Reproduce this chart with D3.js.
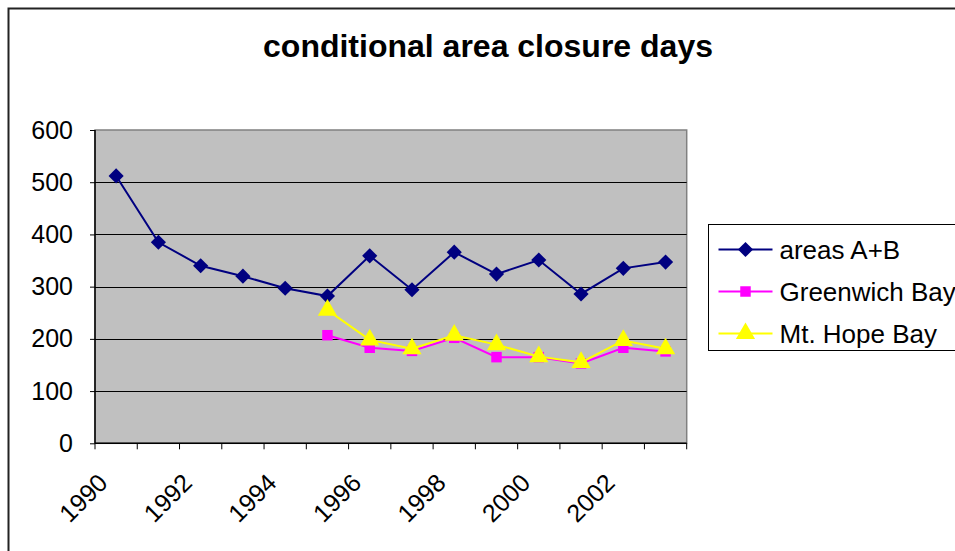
<!DOCTYPE html>
<html>
<head>
<meta charset="utf-8">
<script src="https://cdn.jsdelivr.net/npm/d3@7"></script>
<style>
  body { margin: 0; background: #fff; }
  svg { display: block; font-family: "Liberation Sans", Arial, sans-serif; }
</style>
</head>
<body>
<div id="chart"></div>
<script>
// Data
var years = [1990, 1991, 1992, 1993, 1994, 1995, 1996, 1997, 1998, 1999, 2000, 2001, 2002, 2003];
var areasAB = [512, 385, 340, 320, 297, 282, 359, 294, 366, 324, 351, 286, 335, 347];
var greenwichBay = [null, null, null, null, null, 207, 183, 177, 202, 165, 165, 153, 183, 176];
var mtHopeBay = [null, null, null, null, null, 255, 198, 181, 207, 189, 166, 155, 197, 181];
var yTicks = [0, 100, 200, 300, 400, 500, 600];
var xLabels = [1990, 1992, 1994, 1996, 1998, 2000, 2002];

var series = [
  { name: "areas A+B", values: areasAB, color: "#000080", symbol: d3.symbolSquare, size: 115, rotate: 45 },
  { name: "Greenwich Bay", values: greenwichBay, color: "#FF00FF", symbol: d3.symbolSquare, size: 110, rotate: 0 },
  { name: "Mt. Hope Bay", values: mtHopeBay, color: "#FFFF00", symbol: d3.symbolTriangle, size: 160, rotate: 0 },
];

var width = 955;
var height = 551;
var margins = { top: 130, left: 95 };
var chartWidth = 591.7;
var chartHeight = 313.3;

var svg = d3
  .select("#chart")
  .append("svg")
  .attr("width", width)
  .attr("height", height);

// Outer chart border (only top and left are in view)
svg
  .append("path")
  .attr("d", "M8.5," + height + "V8.5H" + width)
  .attr("fill", "none")
  .attr("stroke", "#222")
  .attr("stroke-width", 2);

// Title
svg
  .append("text")
  .attr("x", 488)
  .attr("y", 57)
  .attr("text-anchor", "middle")
  .style("font-size", "32px")
  .style("font-weight", "bold")
  .text("conditional area closure days");

// Scales
var xScale = d3.scaleBand().domain(years).range([0, chartWidth]);
var yScale = d3.scaleLinear().domain([0, 600]).range([chartHeight, 0]);

var chartElement = svg.append("g").attr("transform", "translate(" + margins.left + "," + margins.top + ")");

// Plot background
chartElement
  .append("rect")
  .attr("width", chartWidth)
  .attr("height", chartHeight)
  .attr("fill", "#C0C0C0")
  .attr("stroke", "#808080")
  .attr("stroke-width", 1.5);

// Gridlines
chartElement
  .append("g")
  .selectAll("line")
  .data(yTicks.filter((d) => d > 0 && d < 600))
  .enter()
  .append("line")
  .attr("x1", 0)
  .attr("x2", chartWidth)
  .attr("y1", (d) => Math.round(yScale(d)) + 0.5)
  .attr("y2", (d) => Math.round(yScale(d)) + 0.5)
  .attr("stroke", "#000")
  .attr("stroke-width", 1);

// Y axis
var yAxis = d3.axisLeft(yScale).tickValues(yTicks).tickSize(5).tickPadding(17).tickFormat((d) => d);
var yAxisG = chartElement.append("g").call(yAxis);
yAxisG.select(".domain").attr("stroke", "#000").attr("stroke-width", 1.5).attr("d", "M0,0V" + chartHeight);
yAxisG.selectAll("text").style("font-size", "25px").attr("fill", "#000").attr("font-family", null);

// X axis: ticks at category boundaries
var xAxisG = chartElement.append("g").attr("transform", "translate(0," + chartHeight + ")");
xAxisG
  .append("line")
  .attr("x1", 0)
  .attr("x2", chartWidth)
  .attr("stroke", "#000")
  .attr("stroke-width", 1.5);
xAxisG
  .selectAll(".tick")
  .data(years.concat(["end"]))
  .enter()
  .append("line")
  .attr("x1", (d, i) => (i < years.length ? xScale(d) : chartWidth))
  .attr("x2", (d, i) => (i < years.length ? xScale(d) : chartWidth))
  .attr("y1", 0)
  .attr("y2", 6)
  .attr("stroke", "#000");
xAxisG
  .selectAll(".label")
  .data(xLabels)
  .enter()
  .append("text")
  .attr("text-anchor", "end")
  .attr("transform", (d) => "translate(" + (xScale(d) + xScale.bandwidth() / 2 - 7) + ",41) rotate(-45)")
  .style("font-size", "25px")
  .text((d) => d);

// Lines and markers
var line = d3
  .line()
  .defined((d) => d != null)
  .x((d, i) => xScale(years[i]) + xScale.bandwidth() / 2)
  .y((d) => yScale(d));

series.forEach(function (s) {
  var g = chartElement.append("g");
  g.append("path")
    .attr("d", line(s.values))
    .attr("fill", "none")
    .attr("stroke", s.color)
    .attr("stroke-width", 2);
  g.selectAll("path.marker")
    .data(s.values.map((v, i) => ({ v: v, year: years[i] })).filter((d) => d.v != null))
    .enter()
    .append("path")
    .attr("class", "marker")
    .attr("d", d3.symbol().type(s.symbol).size(s.size))
    .attr(
      "transform",
      (d) => "translate(" + (xScale(d.year) + xScale.bandwidth() / 2) + "," + yScale(d.v) + ") rotate(" + s.rotate + ")"
    )
    .attr("fill", s.color);
});

// Legend
var legend = svg.append("g").attr("transform", "translate(708.5,224.5)");
legend
  .append("rect")
  .attr("width", 260)
  .attr("height", 126)
  .attr("fill", "#fff")
  .attr("stroke", "#000")
  .attr("stroke-width", 1);

var items = legend
  .selectAll(".item")
  .data(series)
  .enter()
  .append("g")
  .attr("transform", (d, i) => "translate(0," + (25 + i * 42) + ")");
items
  .append("line")
  .attr("x1", 10)
  .attr("x2", 64)
  .attr("stroke", (d) => d.color)
  .attr("stroke-width", 2);
items
  .append("path")
  .attr("d", (d) => d3.symbol().type(d.symbol).size(d.size)())
  .attr("transform", (d) => "translate(37,0) rotate(" + d.rotate + ")")
  .attr("fill", (d) => d.color);
items
  .append("text")
  .attr("x", 71)
  .attr("y", 9)
  .style("font-size", "26px")
  .text((d) => d.name);
</script>
</body>
</html>
